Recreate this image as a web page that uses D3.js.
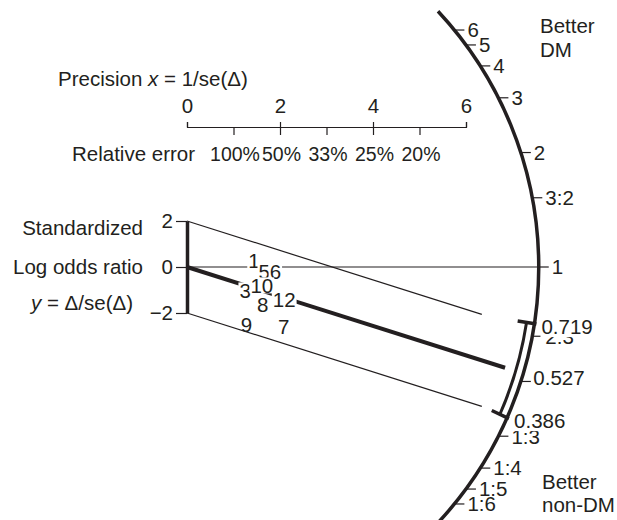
<!DOCTYPE html>
<html>
<head>
<meta charset="utf-8">
<script src="https://cdn.jsdelivr.net/npm/d3@7"></script>
<style>
  body { margin: 0; background: #fff; }
  svg text { font-family: "Liberation Sans", Arial, Helvetica, sans-serif; font-size: 20.5px; fill: #231f20; }
</style>
</head>
<body>
<svg id="chart" width="617" height="520"></svg>
<script>
// Radial (Galbraith) plot: each trial is placed at (precision, standardized log OR),
// the slope from the origin is read off the odds-ratio arc on the right.

// trials
const trialIds  = ['1', '5', '6', '3', '10', '8', '12', '9', '7'];
const precision = [1.44, 1.66, 1.90, 1.25, 1.61, 1.63, 2.09, 1.28, 2.08];
const stdLogOR  = [0.26, -0.21, -0.21, -1.02, -0.80, -1.63, -1.43, -2.52, -2.59];

// pooled estimate and its CI
const pooledOR = 0.527;
const ciOR = [0.719, 0.386];
const ciLabels = ['0.719', '0.386'];
const pooledLineEnd = 6.84;   // precision where the pooled line stops
const bandLineEnd = 6.34;     // +-2 band lines

// axes
const precisionTicks = [0, 2, 4, 6];
const relErrorTicks = [1, 2, 3, 4, 5];
const relErrorLabels = ['100%', '50%', '33%', '25%', '20%'];
const stdTicks = [2, 0, -2];
const orTicks  = [6, 5, 4, 3, 2, 3 / 2, 1, 2 / 3, 1 / 2, 1 / 3, 1 / 4, 1 / 5, 1 / 6];
const orLabels = ['6', '5', '4', '3', '2', '3:2', '1', '2:3', '', '1:3', '1:4', '1:5', '1:6']; // 1:2 sits under the pooled label

const INK = '#231f20';
const svg = d3.select('#chart');

const x = d3.scaleLinear().domain([0, 6]).range([187, 466]);
const y = d3.scaleLinear().domain([-2, 2]).range([313, 221]);

const ox = x(0), oy = y(0);
const unitX = x(1) - x(0);
const unitY = y(0) - y(1);
const arcC = [x(-0.5), oy];
const ARC_R = 375;
const ARC_SPAN = 43 * Math.PI / 180;

// where the ray from the origin with slope log(or) meets the arc
function rayPoint(or) {
    let dx = unitX, dy = -Math.log(or) * unitY;
    const len = Math.hypot(dx, dy);
    dx /= len; dy /= len;
    const wx = ox - arcC[0], wy = oy - arcC[1];
    const b = wx * dx + wy * dy;
    const t = -b + Math.sqrt(b * b - (wx * wx + wy * wy) + ARC_R * ARC_R);
    return { x: ox + t * dx, y: oy + t * dy, dx: dx, dy: dy };
}

// ---- precision axis (top) ----
const topAxis = svg.append('g')
    .attr('transform', 'translate(0,127)')
    .call(d3.axisTop(x).tickValues(precisionTicks).tickSizeInner(5).tickSizeOuter(5).tickPadding(9).tickFormat(d3.format('d')));
const relAxis = svg.append('g')
    .attr('transform', 'translate(0,127)')
    .call(d3.axisBottom(x).tickValues(relErrorTicks).tickSize(8).tickPadding(12).tickFormat((d, i) => relErrorLabels[i]));
relAxis.select('.domain').remove();
[topAxis, relAxis].forEach(g => {
    g.attr('font-size', null).attr('font-family', null);
    g.selectAll('path, line').attr('stroke', INK).attr('stroke-width', 1.2);
    g.selectAll('text').attr('fill', INK);
});
relAxis.selectAll('text').attr('dx', 1).style('font-size', '19.5px');

svg.append('text').attr('x', 58).attr('y', 86)
    .call(t => {
        t.append('tspan').text('Precision ');
        t.append('tspan').attr('font-style', 'italic').text('x');
        t.append('tspan').text(' = 1/se(Δ)');
    });
svg.append('text').attr('x', 72).attr('y', 161).text('Relative error');

// ---- standardized axis (left) ----
const leftAxis = svg.append('g')
    .attr('transform', `translate(${ox},0)`)
    .call(d3.axisLeft(y).tickValues(stdTicks).tickSizeInner(11).tickSizeOuter(0).tickPadding(3)
        .tickFormat(d => d < 0 ? '\u2212' + (-d) : d));
leftAxis.attr('font-size', null).attr('font-family', null);
leftAxis.selectAll('line').attr('stroke', INK).attr('stroke-width', 1.2);
leftAxis.select('.domain').attr('stroke', INK).attr('stroke-width', 3.5);
leftAxis.selectAll('text').attr('fill', INK);

svg.append('text').attr('x', 143).attr('y', 235).attr('text-anchor', 'end').text('Standardized');
svg.append('text').attr('x', 143).attr('y', 274).attr('text-anchor', 'end').text('Log odds ratio');
svg.append('text').attr('x', 133).attr('y', 310).attr('text-anchor', 'end')
    .call(t => {
        t.append('tspan').attr('font-style', 'italic').text('y');
        t.append('tspan').text(' = Δ/se(Δ)');
    });

// ---- lines ----
const line = d3.line().x(d => x(d[0])).y(d => y(d[1]));
const theta = Math.log(pooledOR);
const oneAt = rayPoint(1);

svg.append('line')
    .attr('x1', ox).attr('y1', oy).attr('x2', oneAt.x).attr('y2', oy)
    .attr('stroke', INK).attr('stroke-width', 1.2);
svg.append('path')
    .attr('d', line([[0, 0], [pooledLineEnd, theta * pooledLineEnd]]))
    .attr('fill', 'none').attr('stroke', INK).attr('stroke-width', 4);

// ---- trials (white backing hides the lines underneath) ----
const trials = svg.append('g').selectAll('g')
    .data(trialIds)
    .join('g')
    .attr('transform', (d, i) => `translate(${x(precision[i])},${y(stdLogOR[i])})`);
trials.append('rect').attr('fill', '#fff');
trials.append('text')
    .attr('dy', '0.36em')
    .attr('text-anchor', 'middle')
    .text(d => d);
trials.each(function () {
    const g = d3.select(this);
    const w = g.select('text').node().getComputedTextLength();
    g.select('rect').attr('x', -w / 2 - 1).attr('width', w + 2).attr('y', -8).attr('height', 16);
});

// +-2 band lines sit on top of the labels
[2, -2].forEach(off => {
    svg.append('path')
        .attr('d', line([[0, off], [bandLineEnd, off + theta * bandLineEnd]]))
        .attr('fill', 'none').attr('stroke', INK).attr('stroke-width', 1.2);
});

// ---- odds ratio arc ----
const arcPath = d3.path();
arcPath.arc(arcC[0], arcC[1], ARC_R, -ARC_SPAN, ARC_SPAN);
svg.append('path').attr('d', arcPath.toString())
    .attr('fill', 'none').attr('stroke', INK).attr('stroke-width', 3.5);

const arcTicks = svg.append('g');
orTicks.forEach((v, i) => {
    const p = rayPoint(v);
    arcTicks.append('line')
        .attr('x1', p.x).attr('y1', p.y).attr('x2', p.x + 10).attr('y2', p.y)
        .attr('stroke', INK).attr('stroke-width', 1.2);
    arcTicks.append('text')
        .attr('x', p.x + 13).attr('y', p.y).attr('dy', '0.36em')
        .text(orLabels[i]);
});

// CI bracket along the arc
const ciPts = ciOR.map(rayPoint);
const ang = ciPts.map(p => Math.atan2(p.y - arcC[1], p.x - arcC[0]));
const ciPath = d3.path();
ciPath.arc(arcC[0], arcC[1], ARC_R - 8, ang[0], ang[1]);
svg.append('path').attr('d', ciPath.toString())
    .attr('fill', 'none').attr('stroke', INK).attr('stroke-width', 3);
ciPts.forEach(p => {
    svg.append('line')
        .attr('x1', p.x - 17 * p.dx).attr('y1', p.y - 17 * p.dy)
        .attr('x2', p.x + 2 * p.dx).attr('y2', p.y + 2 * p.dy)
        .attr('stroke', INK).attr('stroke-width', 3.5);
});

// estimate labels with white backing
function backedLabel(px, py, txt) {
    const g = svg.append('g');
    const bg = g.append('rect').attr('fill', '#fff');
    const t = g.append('text').attr('x', px).attr('y', py).attr('dy', '0.36em').text(txt);
    const w = t.node().getComputedTextLength();
    const base = py + 7.4;
    bg.attr('x', px - 1).attr('width', w + 2).attr('y', base - 16).attr('height', 19);
}
ciPts.forEach((p, i) => backedLabel(p.x + 7, p.y + 3, ciLabels[i]));
const pooledPt = rayPoint(pooledOR);
backedLabel(pooledPt.x + 10, pooledPt.y + 4, String(pooledOR));

// ---- side notes ----
svg.append('text').attr('x', 540).attr('y', 33).text('Better');
svg.append('text').attr('x', 540).attr('y', 57).text('DM');
svg.append('text').attr('x', 542).attr('y', 489).text('Better');
svg.append('text').attr('x', 542).attr('y', 512).text('non-DM');
</script>
</body>
</html>
